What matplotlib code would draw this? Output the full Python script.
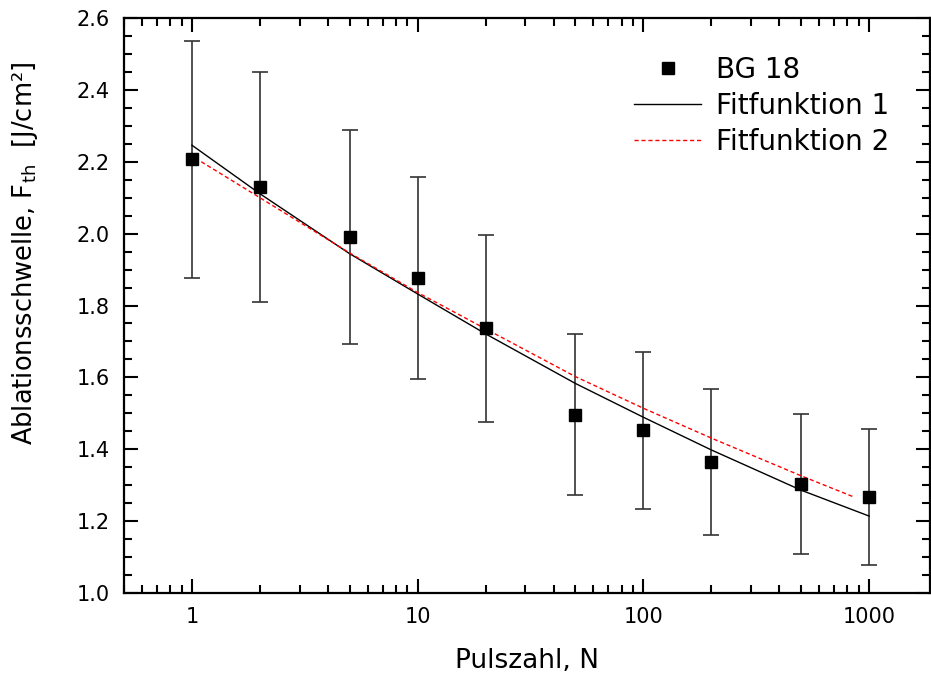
import numpy as np
import matplotlib
matplotlib.use("Agg")
import matplotlib.pyplot as plt
from matplotlib.ticker import MultipleLocator, LogLocator, NullFormatter

# measured thresholds (BG 18)
pulses = [1, 2, 5, 10, 20, 50, 100, 200, 500, 1000]
fth = [2.207, 2.130, 1.991, 1.876, 1.737, 1.496, 1.453, 1.365, 1.303, 1.267]
fth_err = [0.330, 0.319, 0.298, 0.281, 0.260, 0.224, 0.218, 0.204, 0.195, 0.190]

# fit curves
fit1_n = [1, 2, 5, 10, 20, 50, 100, 200, 500, 1000]
fit1_f = [2.246, 2.111, 1.944, 1.832, 1.721, 1.583, 1.489, 1.398, 1.286, 1.214]
fit2_n = [1.1, 2, 5, 10, 20, 50, 100, 200, 500, 857]
fit2_f = [2.200, 2.100, 1.946, 1.836, 1.735, 1.602, 1.514, 1.431, 1.326, 1.267]

plt.rcParams['font.family'] = ['DejaVu Sans']

fig = plt.figure(figsize=(9.31, 6.77), dpi=100)
ax = fig.add_axes([124 / 931, 84 / 677, 806 / 931, 575 / 677])

ax.errorbar(pulses, fth, yerr=fth_err, fmt='none', ecolor='#333333',
            elinewidth=1.2, capsize=6, capthick=1.2, zorder=2)
ax.plot(pulses, fth, 's', color='black', markersize=8.5, label='BG 18', zorder=4)
ax.plot(fit1_n, fit1_f, '-', color='black', linewidth=1.0, label='Fitfunktion 1', zorder=3)
ax.plot(fit2_n, fit2_f, '--', color='red', linewidth=1.0, dashes=(3, 2),
        label='Fitfunktion 2', zorder=3)

ax.set_xscale('log')
ax.set_xlim(0.5, 1860)
ax.set_ylim(1.0, 2.6)
ax.xaxis.set_minor_locator(LogLocator(base=10, subs=np.arange(2, 10), numticks=20))
ax.xaxis.set_minor_formatter(NullFormatter())
ax.set_xticks([1, 10, 100, 1000])
ax.set_xticklabels(['1', '10', '100', '1000'])
ax.yaxis.set_major_locator(MultipleLocator(0.2))
ax.yaxis.set_minor_locator(MultipleLocator(0.05))
ax.yaxis.set_major_formatter(matplotlib.ticker.FormatStrFormatter('%.1f'))

ax.tick_params(which='both', direction='in', top=True, right=True, labelsize=15, width=1.5)
ax.tick_params(which='major', length=10, pad=10)
ax.tick_params(which='minor', length=6)
for s in ax.spines.values():
    s.set_linewidth(1.6)

ax.set_xlabel('Pulszahl, N', fontsize=19, labelpad=15)
ax.set_ylabel('Ablationsschwelle, F$_\\mathregular{th}$  [J/cm²]', fontsize=18.5)
ax.yaxis.set_label_coords(-0.104, 0.59)

ax.legend(loc='upper left', bbox_to_anchor=(0.633, 0.934), frameon=False, fontsize=20,
          handlelength=2.4, handletextpad=0.55, labelspacing=0.28, borderaxespad=0, borderpad=0)

fig.savefig('out.png', dpi=100)
